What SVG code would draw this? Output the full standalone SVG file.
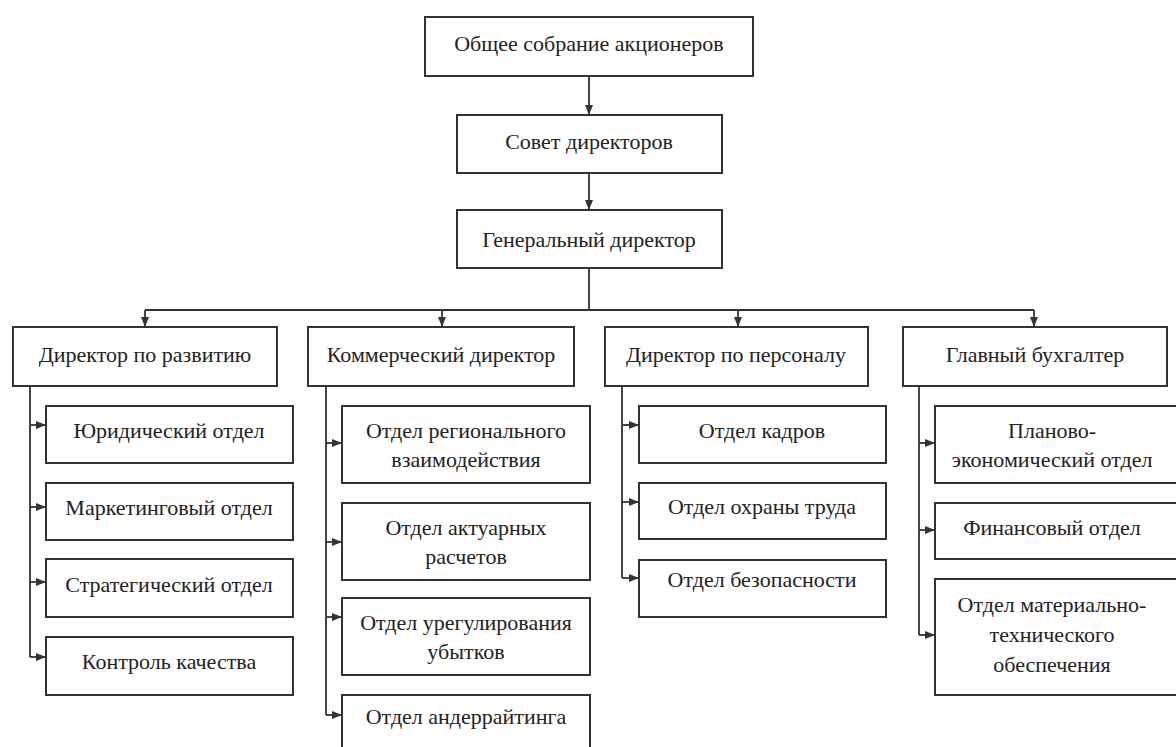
<svg xmlns="http://www.w3.org/2000/svg" width="1176" height="747" viewBox="0 0 1176 747">
<style>
.box{fill:#fff;stroke:#333;stroke-width:2}
.t{font-family:'Liberation Serif','Times New Roman','DejaVu Serif',serif;font-size:22px;fill:#222;text-anchor:middle}
.c{fill:none;stroke:#333;stroke-width:1.8}
.a{fill:none;stroke:#333;stroke-width:1.8;marker-end:url(#ah)}
</style>
<defs>
<marker id="ah" markerUnits="userSpaceOnUse" markerWidth="10" markerHeight="10" viewBox="0 0 10 10" refX="10" refY="5" orient="auto">
<path d="M0,1 L10,5 L0,9 Z" fill="#333"/>
</marker>
</defs>
<rect width="1176" height="747" fill="#fff"/>
<g id="connectors">
<line class="a" x1="589" y1="76" x2="589" y2="115"/>
<line class="a" x1="589" y1="173" x2="589" y2="210"/>
<line class="c" x1="589" y1="268" x2="589" y2="310"/>
<line class="c" x1="145" y1="310" x2="1034" y2="310"/>
<line class="a" x1="145" y1="310" x2="145" y2="327"/>
<line class="a" x1="442" y1="310" x2="442" y2="327"/>
<line class="a" x1="738" y1="310" x2="738" y2="327"/>
<line class="a" x1="1034" y1="310" x2="1034" y2="327"/>
<line class="c" x1="30" y1="386" x2="30" y2="657"/>
<line class="a" x1="30" y1="425" x2="46" y2="425"/>
<line class="a" x1="30" y1="507" x2="46" y2="507"/>
<line class="a" x1="30" y1="582" x2="46" y2="582"/>
<line class="a" x1="30" y1="657" x2="46" y2="657"/>
<line class="c" x1="326" y1="386" x2="326" y2="715"/>
<line class="a" x1="326" y1="443" x2="342" y2="443"/>
<line class="a" x1="326" y1="542" x2="342" y2="542"/>
<line class="a" x1="326" y1="617" x2="342" y2="617"/>
<line class="a" x1="326" y1="715" x2="342" y2="715"/>
<line class="c" x1="622" y1="386" x2="622" y2="578"/>
<line class="a" x1="622" y1="425" x2="639" y2="425"/>
<line class="a" x1="622" y1="502" x2="639" y2="502"/>
<line class="a" x1="622" y1="578" x2="639" y2="578"/>
<line class="c" x1="919" y1="386" x2="919" y2="635"/>
<line class="a" x1="919" y1="443" x2="935" y2="443"/>
<line class="a" x1="919" y1="530" x2="935" y2="530"/>
<line class="a" x1="919" y1="635" x2="935" y2="635"/>
</g>
<g id="n-obshchee"><rect class="box" x="425" y="17" width="328" height="59"/><text class="t" x="589" y="51">Общее собрание акционеров</text></g>
<g id="n-sovet"><rect class="box" x="457" y="115" width="265" height="58"/><text class="t" x="589" y="149">Совет директоров</text></g>
<g id="n-gendir"><rect class="box" x="457" y="210" width="265" height="58"/><text class="t" x="589" y="247">Генеральный директор</text></g>

<g id="n-dir-razv"><rect class="box" x="13" y="327" width="264" height="59"/><text class="t" x="145" y="362">Директор по развитию</text></g>
<g id="n-kom-dir"><rect class="box" x="308" y="327" width="266" height="59"/><text class="t" x="441" y="362">Коммерческий директор</text></g>
<g id="n-dir-pers"><rect class="box" x="605" y="327" width="263" height="59"/><text class="t" x="736" y="362">Директор по персоналу</text></g>
<g id="n-gl-buh"><rect class="box" x="903" y="327" width="264" height="59"/><text class="t" x="1035" y="362">Главный бухгалтер</text></g>

<g id="n-yur"><rect class="box" x="46" y="406" width="247" height="57"/><text class="t" x="169" y="438">Юридический отдел</text></g>
<g id="n-mark"><rect class="box" x="46" y="483" width="247" height="57"/><text class="t" x="169" y="515">Маркетинговый отдел</text></g>
<g id="n-strat"><rect class="box" x="46" y="559" width="247" height="58"/><text class="t" x="169" y="592">Стратегический отдел</text></g>
<g id="n-kontrol"><rect class="box" x="46" y="637" width="247" height="58"/><text class="t" x="169" y="669">Контроль качества</text></g>

<g id="n-region"><rect class="box" x="342" y="406" width="248" height="77"/><text class="t" x="466" y="438">Отдел регионального</text><text class="t" x="466" y="467">взаимодействия</text></g>
<g id="n-aktuar"><rect class="box" x="342" y="503" width="248" height="77"/><text class="t" x="466" y="535">Отдел актуарных</text><text class="t" x="466" y="564">расчетов</text></g>
<g id="n-uregul"><rect class="box" x="342" y="598" width="248" height="77"/><text class="t" x="466" y="630">Отдел урегулирования</text><text class="t" x="466" y="659">убытков</text></g>
<g id="n-ander"><rect class="box" x="342" y="695" width="248" height="70"/><text class="t" x="466" y="724">Отдел андеррайтинга</text></g>

<g id="n-kadr"><rect class="box" x="639" y="406" width="247" height="57"/><text class="t" x="762" y="438">Отдел кадров</text></g>
<g id="n-ohrana"><rect class="box" x="639" y="483" width="247" height="56"/><text class="t" x="762" y="514">Отдел охраны труда</text></g>
<g id="n-bezop"><rect class="box" x="639" y="560" width="247" height="57"/><text class="t" x="762" y="587">Отдел безопасности</text></g>

<g id="n-plan"><rect class="box" x="935" y="406" width="247" height="77"/><text class="t" x="1052" y="438">Планово-</text><text class="t" x="1052" y="467">экономический отдел</text></g>
<g id="n-fin"><rect class="box" x="935" y="503" width="247" height="56"/><text class="t" x="1052" y="535">Финансовый отдел</text></g>
<g id="n-mat"><rect class="box" x="935" y="579" width="247" height="116"/><text class="t" x="1052" y="612">Отдел материально-</text><text class="t" x="1052" y="642">технического</text><text class="t" x="1052" y="672">обеспечения</text></g>
</svg>
